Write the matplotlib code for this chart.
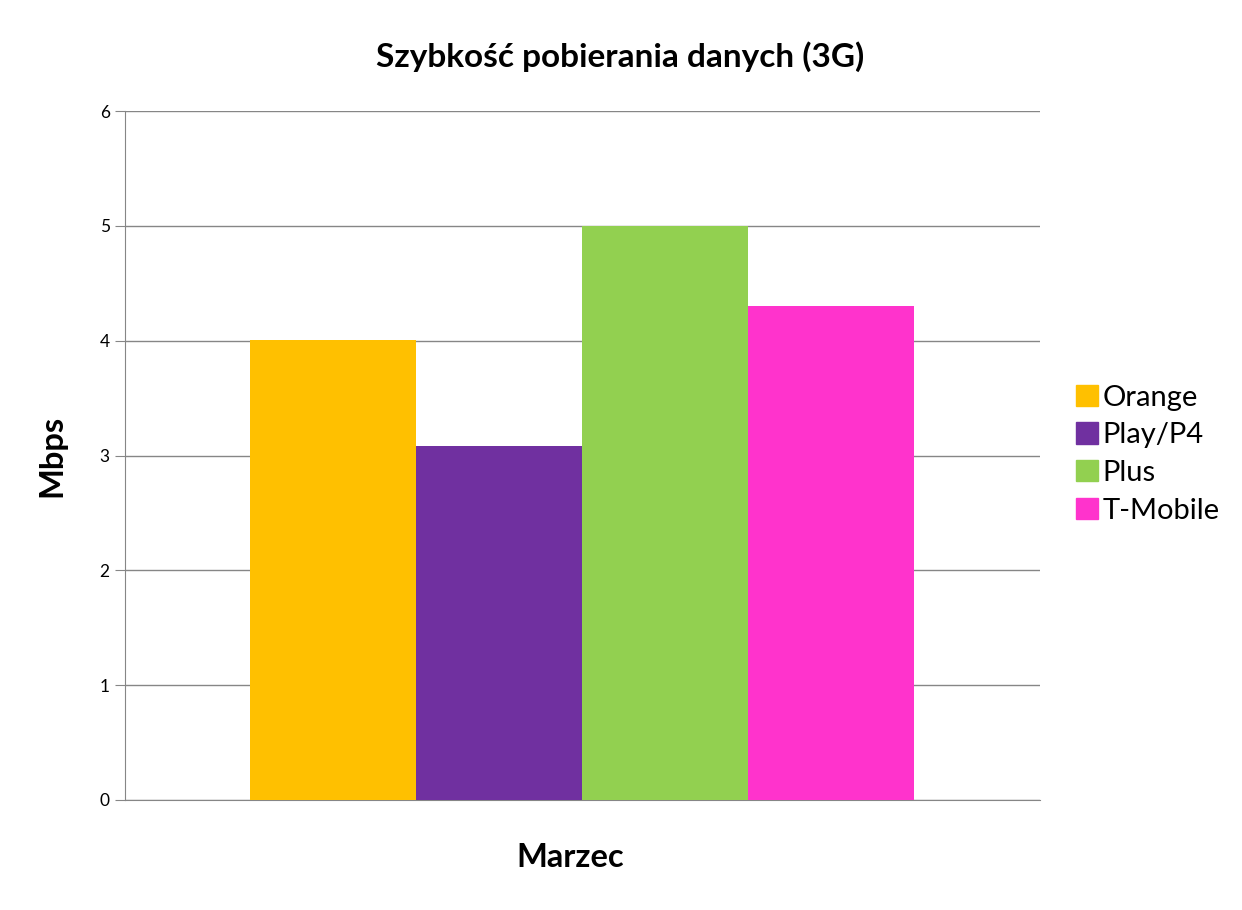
import matplotlib.pyplot as plt
from matplotlib.patches import Patch

plt.rcParams['font.family'] = ['Lato', 'DejaVu Sans']

category = "Marzec"
operators = ["Orange", "Play/P4", "Plus", "T-Mobile"]
speeds = [4.01, 3.08, 5.0, 4.3]
colors = ["#FFC000", "#7030A0", "#92D050", "#FF33CC"]
yticks = [0, 1, 2, 3, 4, 5, 6]

fig = plt.figure(figsize=(12.42, 9.10), dpi=100)
ax = fig.add_axes([0.1006, 0.1209, 0.7368, 0.7571])

w = 0.1814
n = len(operators)
for i, (name, val, col) in enumerate(zip(operators, speeds, colors)):
    ax.bar((i - (n - 1) / 2) * w, val, width=w, color=col, label=name, zorder=3)

ax.set_xlim(-0.5, 0.5)
ax.set_ylim(0, 6)
ax.set_yticks(yticks)
ax.set_yticklabels([str(t) for t in yticks], fontsize=12.5)
ax.set_xticks([])
ax.yaxis.grid(True, color="#868686", linewidth=1, zorder=0)
for s in ["top", "right"]:
    ax.spines[s].set_visible(False)
for s in ["left", "bottom"]:
    ax.spines[s].set_color("#868686")
ax.tick_params(axis="y", length=7, color="#868686", pad=4)

ax.set_title("Szybkość pobierania danych (3G)", fontsize=24, fontweight="bold",
             pad=32, x=0.541)
ax.set_ylabel("Mbps", fontsize=23.5, fontweight="bold", labelpad=24)
ax.set_xlabel(category, fontsize=23.5, fontweight="bold", labelpad=27)
ax.xaxis.set_label_coords(0.487, -0.062)

handles = [Patch(color=c, label=o) for o, c in zip(operators, colors)]
fig.legend(handles=handles, loc="center left", bbox_to_anchor=(0.855, 0.501),
           frameon=False, fontsize=21, handlelength=0.75, handleheight=0.75,
           handletextpad=0.15, labelspacing=0.4, borderpad=0)

fig.savefig("out.png", dpi=100)
